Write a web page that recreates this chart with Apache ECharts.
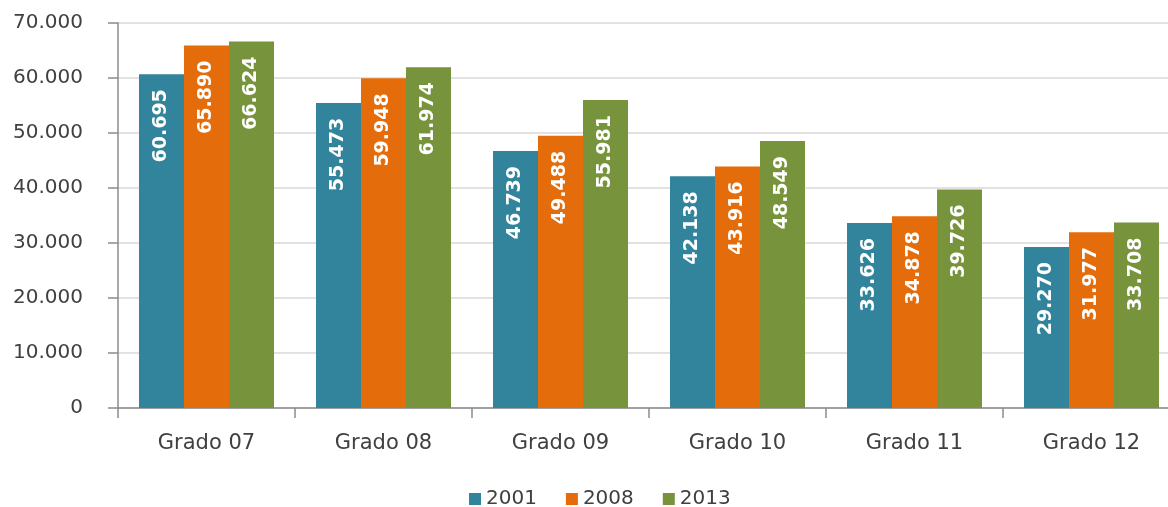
<!DOCTYPE html>
<html>
<head>
<meta charset="utf-8">
<script src="https://cdn.jsdelivr.net/npm/echarts@6/dist/echarts.min.js"></script>
<style>
  html, body { margin: 0; padding: 0; background: #fff; }
  #chart { width: 1168px; height: 507px; }
</style>
</head>
<body>
<div id="chart"></div>
<script>
  var categories = ['Grado 07', 'Grado 08', 'Grado 09', 'Grado 10', 'Grado 11', 'Grado 12']
  var years = ['2001', '2008', '2013']
  var values2001 = [60695, 55473, 46739, 42138, 33626, 29270]
  var values2008 = [65890, 59948, 49488, 43916, 34878, 31977]
  var values2013 = [66624, 61974, 55981, 48549, 39726, 33708]
  var colors = ['#31849B', '#E46C0A', '#77933C']

  // 60695 -> "60.695"
  function fmt(v) {
    return String(v).replace(/\B(?=(\d{3})+(?!\d))/g, '.')
  }

  var fontFamily = "'DejaVu Sans', sans-serif"

  function makeSeries(name, data, color) {
    return {
      name: name,
      type: 'bar',
      barWidth: 45,
      barGap: '0%',
      data: data,
      itemStyle: { color: color },
      label: {
        show: true,
        position: 'insideTop',
        rotate: 90,
        align: 'right',
        verticalAlign: 'middle',
        distance: 15,
        color: '#fff',
        fontSize: 19,
        fontWeight: 'bold',
        fontFamily: fontFamily,
        formatter: function (p) { return fmt(p.value) }
      }
    }
  }

  var chart = echarts.init(document.getElementById('chart'))
  chart.setOption({
    backgroundColor: '#fff',
    animation: false,
    textStyle: { fontFamily: fontFamily },
    legend: {
      data: years,
      top: 484,
      left: 464,
      icon: 'rect',
      itemWidth: 12,
      itemHeight: 12,
      itemGap: 29,
      textStyle: { fontSize: 20, color: '#404040', fontFamily: fontFamily }
    },
    grid: {
      left: 118,
      top: 23,
      width: 1062,
      bottom: 99,
      containLabel: false,
      outerBoundsMode: 'none'
    },
    xAxis: {
      type: 'category',
      data: categories,
      axisLine: { lineStyle: { color: '#8c8c8c', width: 1.5 } },
      axisTick: { show: true, length: 10, alignWithLabel: false, lineStyle: { color: '#8c8c8c', width: 1.5 } },
      axisLabel: { fontSize: 21, color: '#404040', margin: 25, fontFamily: fontFamily }
    },
    yAxis: {
      type: 'value',
      min: 0,
      max: 70000,
      interval: 10000,
      axisLine: { show: true, lineStyle: { color: '#8c8c8c', width: 1.5 } },
      axisTick: { show: true, length: 10, lineStyle: { color: '#8c8c8c', width: 1.5 } },
      axisLabel: {
        fontSize: 20,
        color: '#404040',
        margin: 35,
        fontFamily: fontFamily,
        formatter: function (v) { return fmt(v) }
      },
      splitLine: { lineStyle: { color: '#d9d9d9', width: 1.5 } }
    },
    series: [
      makeSeries(years[0], values2001, colors[0]),
      makeSeries(years[1], values2008, colors[1]),
      makeSeries(years[2], values2013, colors[2])
    ]
  })
</script>
</body>
</html>
